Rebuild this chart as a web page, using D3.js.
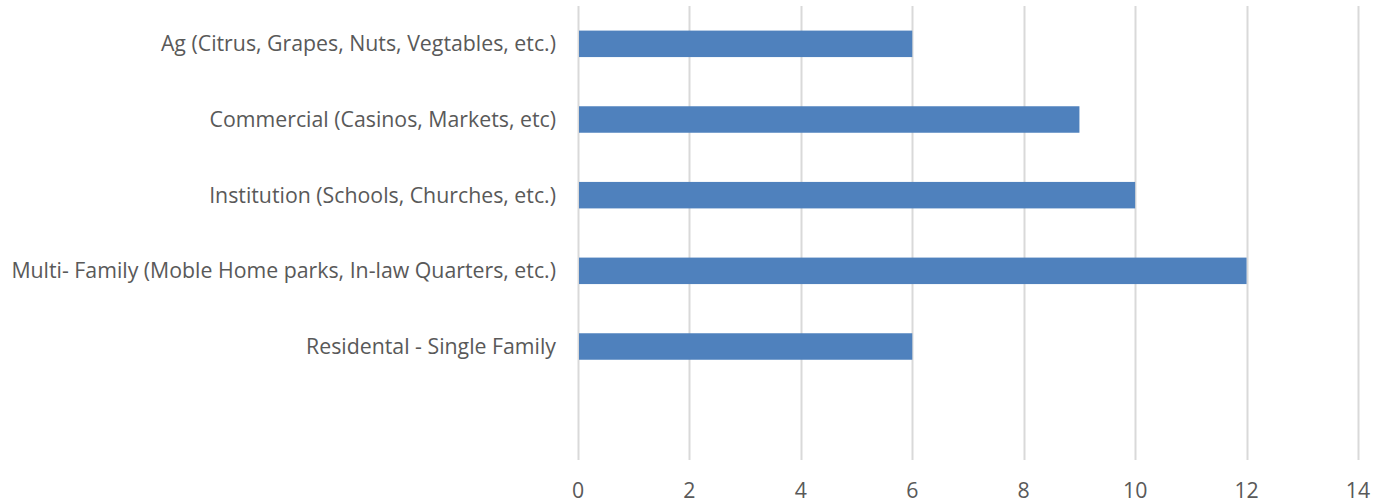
<!DOCTYPE html>
<html>
<head>
<meta charset="utf-8">
<script src="https://cdn.jsdelivr.net/npm/d3@7"></script>
<style>
  html, body { margin: 0; padding: 0; background: #fff; }
  svg { display: block; }
  text { font-family: "Open Sans", Lato, sans-serif; fill: #595959; }
</style>
</head>
<body>
<svg id="chart" width="1379" height="504"></svg>
<script>
// Categories listed top to bottom; the last slot is an empty category.
const categories = [
  "Ag (Citrus, Grapes, Nuts, Vegtables, etc.)",
  "Commercial (Casinos, Markets, etc)",
  "Institution (Schools, Churches, etc.)",
  "Multi- Family (Moble Home parks, In-law Quarters, etc.)",
  "Residental - Single Family",
  ""
];
const values = [6, 9, 10, 12, 6, null];
const xTicks = [0, 2, 4, 6, 8, 10, 12, 14];

const svg = d3.select("#chart");
const margin = { left: 578, right: 21, top: 6, bottom: 44 };
const width = 1379, height = 504;

const x = d3.scaleLinear()
  .domain([0, 14])
  .range([margin.left, width - margin.right]);

const y = d3.scaleBand()
  .domain(d3.range(categories.length))
  .range([margin.top, height - margin.bottom])
  .paddingInner(0.65)
  .paddingOuter(0.325);

// Vertical gridlines
svg.append("g")
  .selectAll("line")
  .data(xTicks)
  .join("line")
  .attr("x1", d => Math.round(x(d)) + 0.5)
  .attr("x2", d => Math.round(x(d)) + 0.5)
  .attr("y1", margin.top)
  .attr("y2", height - margin.bottom)
  .attr("stroke", "#d9d9d9")
  .attr("stroke-width", 2);

// Bars
svg.append("g")
  .selectAll("rect")
  .data(values.map((v, i) => ({ v, i })).filter(d => d.v != null))
  .join("rect")
  .attr("x", x(0) + 1)
  .attr("y", d => y(d.i))
  .attr("width", d => x(d.v) - x(0) - 1)
  .attr("height", y.bandwidth())
  .attr("fill", "#4f81bd");

// Category labels
const labelSize = 21.3;
svg.append("g")
  .selectAll("text")
  .data(categories)
  .join("text")
  .attr("x", margin.left - 22)
  .attr("y", (d, i) => y(i) + y.bandwidth() / 2)
  .attr("dy", "0.35em")
  .attr("text-anchor", "end")
  .attr("font-size", labelSize)
  .text(d => d);

// Value axis tick labels
svg.append("g")
  .selectAll("text")
  .data(xTicks)
  .join("text")
  .attr("x", d => x(d))
  .attr("y", 491)
  .attr("dy", "0.35em")
  .attr("text-anchor", "middle")
  .attr("font-size", labelSize)
  .text(d => d);
</script>
</body>
</html>
